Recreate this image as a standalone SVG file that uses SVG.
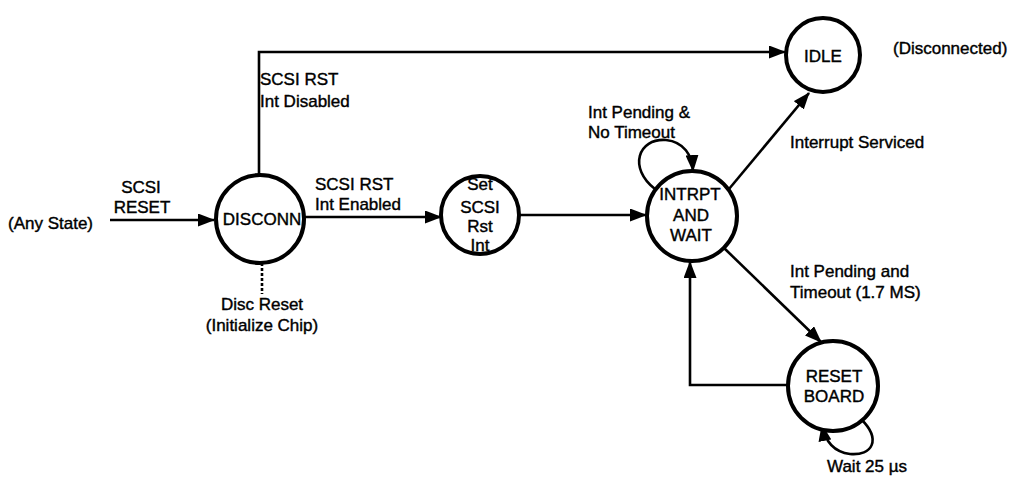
<svg xmlns="http://www.w3.org/2000/svg" width="1022" height="482" viewBox="0 0 1022 482">
<defs>
<marker id="ah" viewBox="0 0 17 13" markerWidth="17" markerHeight="13" refX="16" refY="6.5" orient="auto" markerUnits="userSpaceOnUse">
<path d="M0,0 L17,6.5 L0,13 z" fill="#000"/>
</marker>
</defs>
<style>
.st{fill:#fff;stroke:#000;stroke-width:4}
.e{fill:none;stroke:#000;stroke-width:2.6}
text{font-family:"Liberation Sans",Arial,sans-serif;font-size:17px;fill:#000;stroke:#000;stroke-width:0.4}
.c{text-anchor:middle}
</style>
<rect width="1022" height="482" fill="#fff"/>
<g id="connectors">
<path class="e" d="M110 220 H214" marker-end="url(#ah)"/>
<path class="e" d="M259 175 V52 H785" marker-end="url(#ah)"/>
<path class="e" d="M262 263 V294" stroke-dasharray="3,2" stroke-width="2"/>
<path class="e" d="M305 217 H441" marker-end="url(#ah)"/>
<path class="e" d="M519 215 H646" marker-end="url(#ah)"/>
<path class="e" d="M655 189 C628 168 638 138 666 140 C684 142 692 155 693 171" marker-end="url(#ah)"/>
<path class="e" d="M729 189 L809 93" marker-end="url(#ah)"/>
<path class="e" d="M724 248 L821 342" marker-end="url(#ah)"/>
<path class="e" d="M787 385 H690 V262" marker-end="url(#ah)"/>
<path class="e" d="M861 419 C882 440 872 456 850 454 C834 452 825 441 822 425" marker-end="url(#ah)"/>
</g>
<g id="label-anystate"><text x="8" y="229">(Any State)</text></g>
<g id="label-scsireset"><text class="c" x="141" y="193">SCSI</text><text class="c" x="142" y="213">RESET</text></g>
<g id="node-disconn"><circle class="st" cx="260" cy="219" r="44"/><text class="c" x="262" y="225">DISCONN</text></g>
<g id="label-discreset"><text class="c" x="262" y="310">Disc Reset</text><text class="c" x="262" y="331">(Initialize Chip)</text></g>
<g id="label-intdisabled"><text x="260" y="85">SCSI RST</text><text x="260" y="107">Int Disabled</text></g>
<g id="label-intenabled"><text x="315" y="190">SCSI RST</text><text x="315" y="210">Int Enabled</text></g>
<g id="node-set"><circle class="st" cx="480" cy="215" r="39"/><text class="c" x="480" y="190">Set</text><text class="c" x="480" y="213">SCSI</text><text class="c" x="480" y="232">Rst</text><text class="c" x="480" y="251">Int</text></g>
<g id="node-intrpt"><circle class="st" cx="692" cy="216" r="45"/><text class="c" x="690" y="200">INTRPT</text><text class="c" x="691" y="221">AND</text><text class="c" x="691" y="241">WAIT</text></g>
<g id="label-notimeout"><text x="588" y="118">Int Pending &amp;</text><text x="588" y="138">No Timeout</text></g>
<g id="node-idle"><circle class="st" cx="823" cy="55" r="37"/><text class="c" x="823" y="62">IDLE</text></g>
<g id="label-disconnected"><text x="893" y="54">(Disconnected)</text></g>
<g id="label-serviced"><text x="790" y="148">Interrupt Serviced</text></g>
<g id="label-timeout"><text x="790" y="277">Int Pending and</text><text x="790" y="298">Timeout (1.7 MS)</text></g>
<g id="node-reset"><circle class="st" cx="833" cy="386" r="45"/><text class="c" x="834" y="382">RESET</text><text class="c" x="834" y="402">BOARD</text></g>
<g id="label-wait"><text x="827" y="472">Wait 25 µs</text></g>
</svg>
